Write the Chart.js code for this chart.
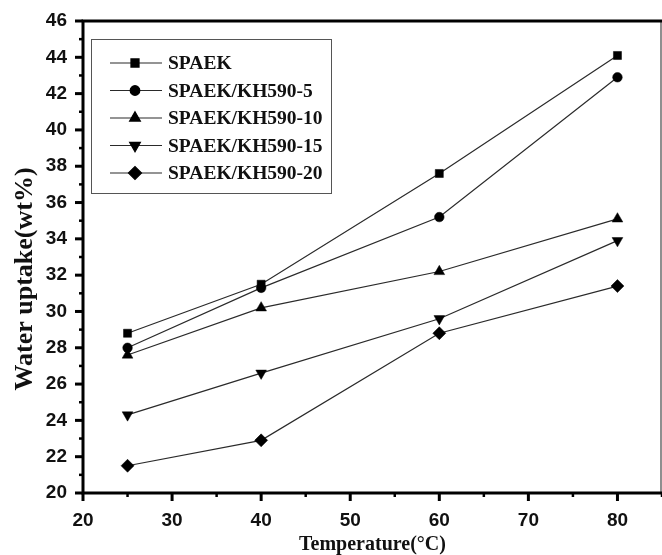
<!DOCTYPE html>
<html lang="en">
<head>
    <meta charset="UTF-8">
    <title>Water uptake vs temperature</title>
    <script src="https://cdn.jsdelivr.net/npm/chart.js@4.4.1/dist/chart.umd.min.js"></script>
    <style>
        html, body { margin: 0; padding: 0; background: #fff; }
        #wrap { width: 662px; height: 555px; }
    </style>
</head>
<body>
    <div id="wrap">
        <canvas id="uptakeChart" width="662" height="555"></canvas>
    </div>

    <script>
        // data
        const temps = [25, 40, 60, 80];
        const spaek = [28.8, 31.5, 37.6, 44.1];
        const kh5 = [28.0, 31.3, 35.2, 42.9];
        const kh10 = [27.6, 30.2, 32.2, 35.1];
        const kh15 = [24.3, 26.6, 29.6, 33.9];
        const kh20 = [21.5, 22.9, 28.8, 31.4];
        const seriesNames = ['SPAEK', 'SPAEK/KH590-5', 'SPAEK/KH590-10', 'SPAEK/KH590-15', 'SPAEK/KH590-20'];
        const yTitle = 'Water uptake(wt%)';

        const markers = [
            { style: 'rect', rot: 0, r: 5.7 },
            { style: 'circle', rot: 0, r: 4.8 },
            { style: 'triangle', rot: 0, r: 6.2 },
            { style: 'triangle', rot: 180, r: 6.2 },
            { style: 'rectRot', rot: 0, r: 6.5 }
        ];

        const allSeries = [spaek, kh5, kh10, kh15, kh20];
        const datasets = allSeries.map((vals, i) => ({
            label: seriesNames[i],
            data: vals.map((v, j) => ({ x: temps[j], y: v })),
            borderColor: '#2a2a2a',
            borderWidth: 1.2,
            backgroundColor: '#000',
            pointStyle: markers[i].style,
            pointRotation: markers[i].rot,
            pointRadius: markers[i].r,
            pointHoverRadius: markers[i].r,
            pointBorderWidth: 0.5,
            pointBorderColor: '#000',
            pointBackgroundColor: '#000',
            tension: 0,
            fill: false
        }));

        // frame, ticks (major + minor), y title and the boxed legend
        const framePlugin = {
            id: 'frame',
            afterDraw(chart) {
                const ctx = chart.ctx;
                const a = chart.chartArea;
                const xs = chart.scales.x, ys = chart.scales.y;
                ctx.save();
                ctx.strokeStyle = '#000';
                ctx.lineCap = 'butt';

                for (let v = 20; v <= 46; v++) {
                    const py = ys.getPixelForValue(v);
                    const major = v % 2 === 0;
                    ctx.lineWidth = major ? 3 : 2.5;
                    ctx.beginPath();
                    ctx.moveTo(a.left, py);
                    ctx.lineTo(a.left - (major ? 8 : 4), py);
                    ctx.stroke();
                }
                for (let v = 20; v <= 85; v += 5) {
                    const px = xs.getPixelForValue(v);
                    const major = v % 10 === 0;
                    ctx.lineWidth = major ? 3 : 2.5;
                    ctx.beginPath();
                    ctx.moveTo(px, a.bottom);
                    ctx.lineTo(px, a.bottom + (major ? 8 : 4));
                    ctx.stroke();
                }

                // right border (thin)
                ctx.lineWidth = 1.2;
                ctx.strokeStyle = '#444';
                ctx.beginPath();
                ctx.moveTo(a.right - 1, a.top);
                ctx.lineTo(a.right - 1, a.bottom);
                ctx.stroke();

                // thick top, left, bottom
                ctx.strokeStyle = '#000';
                ctx.lineWidth = 3;
                ctx.beginPath();
                ctx.moveTo(a.right, a.top);
                ctx.lineTo(a.left, a.top);
                ctx.lineTo(a.left, a.bottom);
                ctx.lineTo(a.right, a.bottom);
                ctx.stroke();

                // y axis title, sits a little below the middle like the original
                ctx.save();
                ctx.translate(25, (a.top + a.bottom) / 2 + 22);
                ctx.rotate(-Math.PI / 2);
                ctx.font = 'bold 26px "Liberation Serif", "Times New Roman", serif';
                ctx.textAlign = 'center';
                ctx.textBaseline = 'middle';
                ctx.fillStyle = '#111';
                ctx.fillText(yTitle, 0, 0);
                ctx.restore();

                // legend box
                const bx = a.left + 8, by = a.top + 18, bw = 240, bh = 154;
                ctx.lineWidth = 1;
                ctx.strokeStyle = '#555';
                ctx.strokeRect(bx + 0.5, by + 0.5, bw, bh);

                ctx.font = 'bold 19.5px "Liberation Serif", "Times New Roman", serif';
                ctx.textBaseline = 'middle';
                ctx.textAlign = 'left';
                chart.data.datasets.forEach((ds, i) => {
                    const cy = by + 24 + i * 27.5;
                    ctx.strokeStyle = '#2a2a2a';
                    ctx.lineWidth = 1.2;
                    ctx.beginPath();
                    ctx.moveTo(bx + 19, cy);
                    ctx.lineTo(bx + 71, cy);
                    ctx.stroke();
                    ctx.fillStyle = '#000';
                    ctx.strokeStyle = '#000';
                    Chart.helpers.drawPoint(ctx, {
                        pointStyle: ds.pointStyle,
                        rotation: ds.pointRotation,
                        radius: ds.pointRadius,
                        borderWidth: 0.5
                    }, bx + 44, cy);
                    ctx.fillStyle = '#111';
                    ctx.fillText(ds.label, bx + 77, cy + 1);
                });
                ctx.restore();
            }
        };

        const tickFont = { family: '"Liberation Sans", Arial, sans-serif', size: 19, weight: 'bold' };

        new Chart(document.getElementById('uptakeChart'), {
            type: 'line',
            data: { datasets: datasets },
            plugins: [framePlugin],
            options: {
                responsive: false,
                animation: false,
                events: [],
                layout: { autoPadding: false, padding: { top: 21, right: 0, left: 0, bottom: 0 } },
                plugins: {
                    legend: { display: false },
                    tooltip: { enabled: false }
                },
                scales: {
                    x: {
                        type: 'linear',
                        min: 20,
                        max: 85,
                        grid: { display: false, drawTicks: false },
                        border: { display: false },
                        ticks: {
                            stepSize: 10,
                            includeBounds: false,
                            padding: 16,
                            color: '#111',
                            font: tickFont,
                            maxRotation: 0
                        },
                        title: {
                            display: true,
                            text: 'Temperature(°C)',
                            color: '#111',
                            font: { family: '"Liberation Serif", "Times New Roman", serif', weight: 'bold', size: 20, lineHeight: 1 },
                            padding: { top: 0, bottom: 0 }
                        },
                        afterFit(scale) {
                            scale.height = 62;
                            scale.paddingLeft = 0;
                            scale.paddingRight = 0;
                        }
                    },
                    y: {
                        min: 20,
                        max: 46,
                        grid: { display: false, drawTicks: false },
                        border: { display: false },
                        ticks: {
                            stepSize: 2,
                            padding: 16,
                            color: '#111',
                            font: tickFont
                        },
                        afterFit(scale) {
                            scale.width = 83;
                            scale.paddingTop = 0;
                            scale.paddingBottom = 0;
                        }
                    }
                }
            }
        });
    </script>
</body>
</html>
